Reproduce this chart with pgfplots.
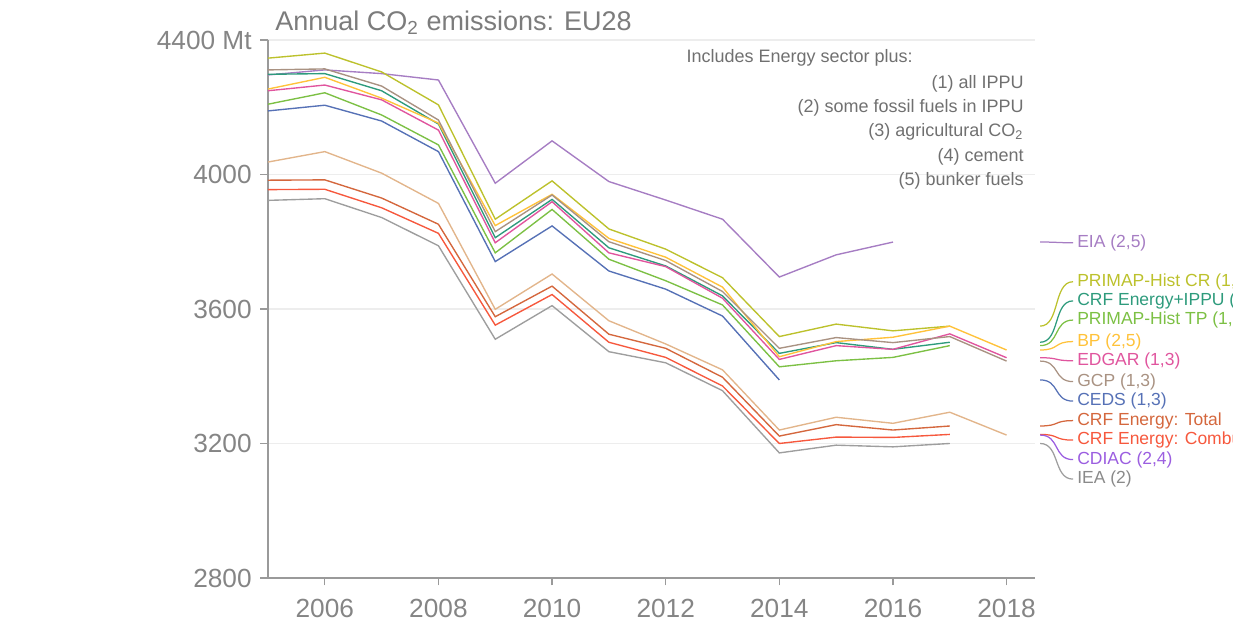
\documentclass[border=0pt]{standalone}
\usepackage{pgfplots}
\pgfplotsset{compat=1.18}
\usepackage{fontspec}
\setmainfont{Liberation Sans}
\definecolor{cEIA}{HTML}{A67DC3}
\definecolor{cPCR}{HTML}{BCC12C}
\definecolor{cCRFI}{HTML}{2E9B7C}
\definecolor{cPTP}{HTML}{7CC044}
\definecolor{cBP}{HTML}{FFC23A}
\definecolor{cEDGAR}{HTML}{E0559E}
\definecolor{cGCP}{HTML}{A99282}
\definecolor{cCEDS}{HTML}{5671B6}
\definecolor{cCRFT}{HTML}{D4673D}
\definecolor{cCRFC}{HTML}{F6583D}
\definecolor{cCDIAC}{HTML}{E2B58B}
\definecolor{cCDIACl}{HTML}{9B5EE0}
\definecolor{cIEA}{HTML}{9E9E9E}
\definecolor{cIEAl}{HTML}{8A8A8A}
\definecolor{axisgray}{HTML}{9A9A9A}
\definecolor{gridgray}{HTML}{EDEDED}
\definecolor{tickgray}{HTML}{858585}
\definecolor{titlegray}{HTML}{7C7C7C}
\definecolor{notegray}{HTML}{707070}
\newcommand\labfont{\fontsize{7}{8}\selectfont}
\newcommand\notefont{\fontsize{7.2}{8.5}\selectfont}
\begin{document}
\begin{tikzpicture}
\path[use as bounding box] (-107.2pt,-19.2pt) rectangle (386pt,231.2pt);
\begin{axis}[
  at={(0pt,0pt)}, anchor=south west, scale only axis,
  width=306.8pt, height=215.2pt,
  xmin=2005, xmax=2018.5, ymin=2800, ymax=4400,
  axis x line*=bottom, axis y line*=left,
  axis line style={draw=axisgray, line width=0.5pt, -},
  xtick={2006,2008,2010,2012,2014,2016,2018},
  xticklabels={2006,2008,2010,2012,2014,2016,2018},
  ytick={2800,3200,3600,4000,4400},
  yticklabels={2800,3200,3600,4000,4400 Mt},
  tick style={draw=axisgray, line width=0.5pt},
  tick align=outside, major tick length=3pt,
  ymajorgrids, grid style={draw=gridgray, line width=0.6pt},
  tick label style={font=\fontsize{10.5}{12}\selectfont, text=tickgray},
  xticklabel style={yshift=-2pt},
  every axis plot/.append style={line width=0.55pt, mark=none},
]
% EIA (2,5)
\addplot[cEIA] coordinates {(2005,4296)(2006,4311)(2007,4300)(2008,4281)(2009,3974)(2010,4100)(2011,3979)(2012,3924)(2013,3867)(2014,3695)(2015,3761)(2016,3799)};
% PRIMAP-Hist CR (1,3)
\addplot[cPCR] coordinates {(2005,4346)(2006,4361)(2007,4305)(2008,4207)(2009,3867)(2010,3981)(2011,3838)(2012,3778)(2013,3693)(2014,3518)(2015,3555)(2016,3535)(2017,3549)};
% CRF Energy+IPPU (1)
\addplot[cCRFI] coordinates {(2005,4298)(2006,4300)(2007,4249)(2008,4150)(2009,3812)(2010,3926)(2011,3782)(2012,3728)(2013,3639)(2014,3468)(2015,3500)(2016,3480)(2017,3501)};
% PRIMAP-Hist TP (1,3)
\addplot[cPTP] coordinates {(2005,4209)(2006,4243)(2007,4177)(2008,4088)(2009,3767)(2010,3896)(2011,3748)(2012,3684)(2013,3612)(2014,3428)(2015,3446)(2016,3456)(2017,3491)};
% BP (2,5)
\addplot[cBP] coordinates {(2005,4254)(2006,4289)(2007,4227)(2008,4153)(2009,3848)(2010,3941)(2011,3810)(2012,3754)(2013,3665)(2014,3458)(2015,3503)(2016,3516)(2017,3549)(2018,3478)};
% EDGAR (1,3)
\addplot[cEDGAR] coordinates {(2005,4249)(2006,4266)(2007,4222)(2008,4132)(2009,3797)(2010,3919)(2011,3767)(2012,3726)(2013,3632)(2014,3450)(2015,3491)(2016,3480)(2017,3526)(2018,3455)};
% GCP (1,3)
\addplot[cGCP] coordinates {(2005,4311)(2006,4314)(2007,4263)(2008,4162)(2009,3830)(2010,3939)(2011,3800)(2012,3744)(2013,3652)(2014,3483)(2015,3515)(2016,3500)(2017,3518)(2018,3445)};
% CEDS (1,3)
\addplot[cCEDS] coordinates {(2005,4189)(2006,4206)(2007,4159)(2008,4068)(2009,3741)(2010,3847)(2011,3713)(2012,3659)(2013,3579)(2014,3389)};
% CDIAC (2,4)
\addplot[cCDIAC] coordinates {(2005,4037)(2006,4068)(2007,4004)(2008,3914)(2009,3599)(2010,3704)(2011,3565)(2012,3496)(2013,3419)(2014,3240)(2015,3278)(2016,3260)(2017,3293)(2018,3225)};
% CRF Energy: Total
\addplot[cCRFT] coordinates {(2005,3983)(2006,3984)(2007,3930)(2008,3852)(2009,3577)(2010,3668)(2011,3525)(2012,3483)(2013,3397)(2014,3222)(2015,3256)(2016,3240)(2017,3252)};
% CRF Energy: Combustion
\addplot[cCRFC] coordinates {(2005,3955)(2006,3956)(2007,3901)(2008,3825)(2009,3552)(2010,3643)(2011,3501)(2012,3456)(2013,3371)(2014,3200)(2015,3219)(2016,3218)(2017,3227)};
% IEA (2)
\addplot[cIEA] coordinates {(2005,3923)(2006,3928)(2007,3872)(2008,3788)(2009,3510)(2010,3610)(2011,3473)(2012,3440)(2013,3357)(2014,3172)(2015,3195)(2016,3190)(2017,3200)};
\end{axis}

% annotations in a frame matching the axis: x = years after 2005, y = Mt above 2800
\begin{scope}[x=22.7259pt, y=0.1345pt]
\def\lx{13.59}\def\rx{14.17}\def\tx{14.2}
\begin{scope}[line width=0.5pt]
\draw[cEIA] (\lx,999) .. controls +(8pt,0pt) and +(-8pt,0pt) .. (\rx,997);
\draw[cPCR] (\lx,749) .. controls +(8pt,0pt) and +(-8pt,0pt) .. (\rx,881);
\draw[cCRFI] (\lx,701) .. controls +(8pt,0pt) and +(-8pt,0pt) .. (\rx,824);
\draw[cPTP] (\lx,691) .. controls +(8pt,0pt) and +(-8pt,0pt) .. (\rx,767);
\draw[cBP] (\lx,678) .. controls +(8pt,0pt) and +(-8pt,0pt) .. (\rx,703);
\draw[cEDGAR] (\lx,655) .. controls +(8pt,0pt) and +(-8pt,0pt) .. (\rx,646);
\draw[cGCP] (\lx,645) .. controls +(8pt,0pt) and +(-8pt,0pt) .. (\rx,584);
\draw[cCEDS] (\lx,589) .. controls +(8pt,0pt) and +(-8pt,0pt) .. (\rx,526);
\draw[cCRFT] (\lx,452) .. controls +(8pt,0pt) and +(-8pt,0pt) .. (\rx,468);
\draw[cCRFC] (\lx,427) .. controls +(8pt,0pt) and +(-8pt,0pt) .. (\rx,410);
\draw[cCDIACl] (\lx,425) .. controls +(8pt,0pt) and +(-8pt,0pt) .. (\rx,352);
\draw[cIEA] (\lx,400) .. controls +(8pt,0pt) and +(-8pt,0pt) .. (\rx,294);
\end{scope}
\begin{scope}[every node/.style={anchor=west, font=\labfont, inner sep=0.8pt}]
\node[text=cEIA] at (\tx,997) {EIA (2,5)};
\node[text=cPCR] at (\tx,881) {PRIMAP-Hist CR (1,3)};
\node[text=cCRFI] at (\tx,824) {CRF Energy+IPPU (1)};
\node[text=cPTP] at (\tx,767) {PRIMAP-Hist TP (1,3)};
\node[text=cBP] at (\tx,703) {BP (2,5)};
\node[text=cEDGAR] at (\tx,646) {EDGAR (1,3)};
\node[text=cGCP] at (\tx,584) {GCP (1,3)};
\node[text=cCEDS] at (\tx,526) {CEDS (1,3)};
\node[text=cCRFT] at (\tx,468) {CRF Energy: Total};
\node[text=cCRFC] at (\tx,410) {CRF Energy: Combustion};
\node[text=cCDIACl] at (\tx,352) {CDIAC (2,4)};
\node[text=cIEAl] at (\tx,294) {IEA (2)};
\end{scope}
\begin{scope}[every node/.style={font=\notefont, text=notegray, inner sep=0pt}]
\node[anchor=base west] at (7.36,1532) {Includes Energy sector plus:};
\node[anchor=base east] at (13.31,1457) {(1) all IPPU};
\node[anchor=base east] at (13.31,1384) {(2) some fossil fuels in IPPU};
\node[anchor=base east] at (13.31,1312) {(3) agricultural CO\textsubscript{2}};
\node[anchor=base east] at (13.31,1238) {(4) cement};
\node[anchor=base east] at (13.31,1167) {(5) bunker fuels};
\end{scope}
\node[anchor=base west, font=\fontsize{10.8}{12}\selectfont, text=titlegray, inner sep=0pt]
  at (0.12,1628) {Annual CO\textsubscript{2} emissions: EU28};
\end{scope}
\end{tikzpicture}
\end{document}
